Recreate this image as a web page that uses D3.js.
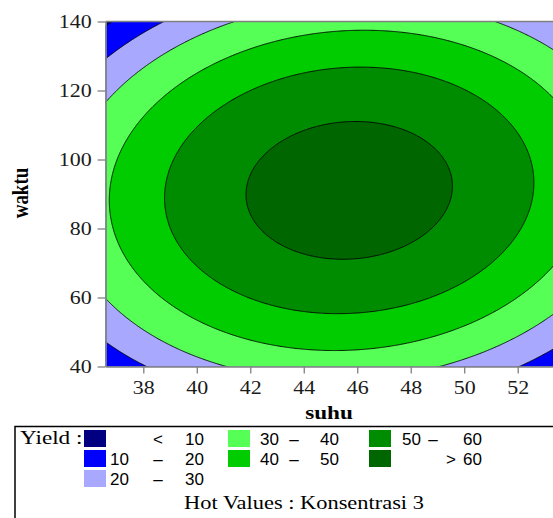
<!DOCTYPE html>
<html>
<head>
<meta charset="utf-8">
<script src="https://cdn.jsdelivr.net/npm/d3@7"></script>
<style>
  body { margin: 0; background: #fff; }
  svg { display: block; overflow: hidden; }
</style>
</head>
<body>
<svg id="chart" width="553" height="518"></svg>
<script>
// axis ranges (suhu / waktu) and ticks
let suhuRange = [36.59, 53.41];
let waktuRange = [40, 140];
let suhuTicks = [38, 40, 42, 44, 46, 48, 50, 52];
let waktuTicks = [40, 60, 80, 100, 120, 140];

// fitted quadratic surface (Konsentrasi held at 3)
// yield = b0 + bxx*u^2 + byy*v^2 + bxy*u*v, u = suhu - centre[0], v = waktu - centre[1]
let surfaceCentre = [45.68, 90.96];
let surfaceCoef = [64.54, -0.306, -0.01143, 0.00728];

// contour levels and legend
let levels = [10, 20, 30, 40, 50, 60];
let bandColors = ['#000080', '#0000ff', '#a8a8ff', '#55ff55', '#00cc00', '#008c00', '#006600'];
let legendLo = ['<', '10', '20', '30', '40', '50', '>'];
let legendHi = ['10', '20', '30', '40', '50', '60', '60'];

const SX = 1.22; // the original text looks stretched sideways
const SERIF = 'Liberation Serif';
const SANS = 'Liberation Sans';

let svg = d3.select('#chart');

let x = d3.scaleLinear().domain(suhuRange).range([105.6, 555.4]);
let y = d3.scaleLinear().domain(waktuRange).range([366.5, 21.5]);

function yieldAt(s, w) {
	let u = s - surfaceCentre[0], v = w - surfaceCentre[1];
	return surfaceCoef[0] + surfaceCoef[1] * u * u + surfaceCoef[2] * v * v + surfaceCoef[3] * u * v;
}

// sample grid, a bit wider than the plot so the clip hides the outer edges
let step = 0.04;
let gx0 = suhuRange[0] - 0.5, gy0 = waktuRange[0] - 3;
let nx = Math.ceil((suhuRange[1] + 0.5 - gx0) / step);
let wStep = 0.18;
let ny = Math.ceil((waktuRange[1] + 3 - gy0) / wStep);
let grid = new Array(nx * ny);
for (let j = 0; j < ny; j++)
	for (let i = 0; i < nx; i++)
		grid[i + j * nx] = yieldAt(gx0 + i * step, gy0 + j * wStep);

let contours = d3.contours().size([nx, ny]).thresholds(levels)(grid);

let toPixels = d3.geoTransform({
	point: function(px, py) {
		this.stream.point(x(gx0 + px * step), y(gy0 + py * wStep));
	}
});
let path = d3.geoPath().projection(toPixels);

let plotX = x(suhuRange[0]), plotY = y(waktuRange[1]);
let plotW = x(suhuRange[1]) - plotX, plotH = y(waktuRange[0]) - plotY;

svg.append('clipPath').attr('id', 'plot-clip')
	.append('rect')
	.attr('x', plotX).attr('y', plotY)
	.attr('width', plotW).attr('height', plotH);

let plot = svg.append('g').attr('clip-path', 'url(#plot-clip)');

plot.append('rect')
	.attr('x', plotX).attr('y', plotY)
	.attr('width', plotW).attr('height', plotH)
	.attr('fill', bandColors[0]);

plot.selectAll('path')
	.data(contours)
	.enter()
	.append('path')
	.attr('d', path)
	.attr('fill', (d, i) => bandColors[i + 1])
	.attr('stroke', '#000')
	.attr('stroke-width', 0.9)
	.attr('stroke-linejoin', 'round');

// axes
let xAxis = svg.append('g')
	.attr('transform', 'translate(0,' + y(waktuRange[0]) + ')')
	.call(d3.axisBottom(x).tickValues(suhuTicks).tickSize(7).tickSizeOuter(0));
let yAxis = svg.append('g')
	.attr('transform', 'translate(' + plotX + ',0)')
	.call(d3.axisLeft(y).tickValues(waktuTicks).tickSize(8).tickSizeOuter(0));

[xAxis, yAxis].forEach(a => {
	a.attr('font-family', SERIF).attr('font-size', 18);
	a.select('.domain').attr('stroke', '#808080').attr('stroke-width', 1.6);
	a.selectAll('.tick line').attr('stroke', '#808080').attr('stroke-width', 1.3);
	a.selectAll('.tick text').attr('fill', '#1a1a1a');
});
xAxis.selectAll('.tick text')
	.attr('y', 0).attr('dy', 0)
	.attr('transform', 'translate(0,27) scale(' + SX + ',1)');
yAxis.selectAll('.tick text')
	.attr('x', 0).attr('dy', 0)
	.attr('transform', 'translate(-14,6) scale(' + SX + ',1)');

// top border
svg.append('line')
	.attr('x1', plotX).attr('x2', 553)
	.attr('y1', plotY).attr('y2', plotY)
	.attr('stroke', '#808080').attr('stroke-width', 1.6);

// axis titles
svg.append('text')
	.attr('transform', 'translate(329,419) scale(' + SX + ',1)')
	.attr('text-anchor', 'middle')
	.attr('font-family', SERIF)
	.attr('font-size', 19).attr('font-weight', 'bold')
	.text('suhu');
svg.append('text')
	.attr('transform', 'translate(28,193) rotate(-90) scale(1,' + SX + ')')
	.attr('text-anchor', 'middle')
	.attr('font-family', SERIF)
	.attr('font-size', 19).attr('font-weight', 'bold')
	.text('waktu');

// legend
let legend = svg.append('g');
legend.append('rect')
	.attr('x', 15).attr('y', 426.5).attr('width', 600).attr('height', 120)
	.attr('fill', 'none').attr('stroke', '#000').attr('stroke-width', 1.5);
legend.append('text')
	.attr('transform', 'translate(20,444) scale(' + SX + ',1)')
	.attr('font-family', SERIF)
	.attr('font-size', 19)
	.text('Yield :');

let colX = [84, 228, 369];
let colText = [[110, 158, 185], [260, 294, 320], [402, 433, 463]];
let items = legendLo.map((lo, i) => {
	let col = i < 3 ? 0 : (i < 5 ? 1 : 2);
	let row = i < 3 ? i : (i < 5 ? i - 3 : i - 5);
	return {lo: lo, hi: legendHi[i], color: bandColors[i], col: col, row: row};
});

let item = legend.selectAll('g.item')
	.data(items)
	.enter()
	.append('g')
	.attr('class', 'item')
	.attr('transform', d => 'translate(0,' + (430 + d.row * 20) + ')');

item.append('rect')
	.attr('x', d => colX[d.col]).attr('y', 0)
	.attr('width', 22).attr('height', 17)
	.attr('fill', d => d.color);

item.each(function(d) {
	let g = d3.select(this);
	let c = colText[d.col];
	let t = (px, anchor, s) => g.append('text')
		.attr('x', px).attr('y', 14.5)
		.attr('text-anchor', anchor)
		.attr('font-family', SANS)
		.attr('font-size', 17)
		.text(s);
	if (d.lo === '<') {
		t(c[1], 'middle', '<');
	} else if (d.lo === '>') {
		t(c[1] + 18, 'middle', '>');
	} else {
		t(c[0], 'start', d.lo);
		t(c[1], 'middle', '\u2013');
	}
	t(c[2], 'start', d.hi);
});

legend.append('text')
	.attr('transform', 'translate(304,509) scale(1.18,1)')
	.attr('text-anchor', 'middle')
	.attr('font-family', SERIF)
	.attr('font-size', 19)
	.text('Hot Values : Konsentrasi 3');
</script>
</body>
</html>
